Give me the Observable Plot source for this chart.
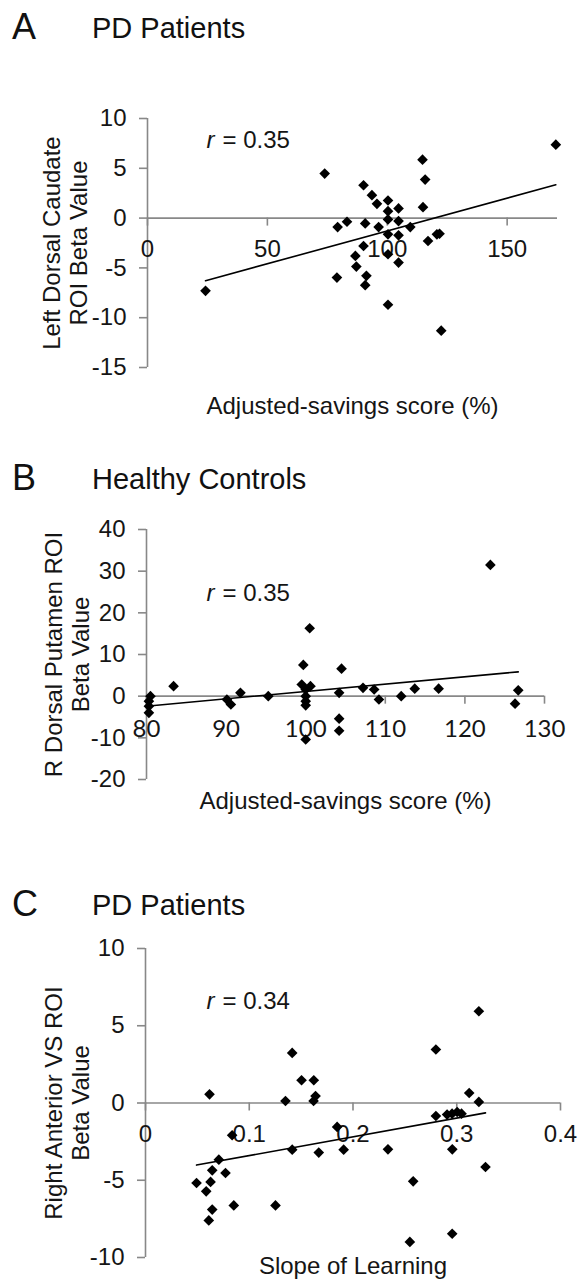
<!DOCTYPE html>
<html><head><meta charset="utf-8">
<script src="https://cdn.jsdelivr.net/npm/d3@7"></script>
<script src="https://cdn.jsdelivr.net/npm/@observablehq/plot@0.6"></script>
<style>
body{margin:0;background:#fff;font-family:"Liberation Sans",Arial,sans-serif;}
#root{position:relative;width:579px;height:1279px;overflow:hidden;background:#fff;}
.abs{position:absolute;white-space:nowrap;color:#111;}
.letter{font-size:36px;line-height:36px;}
.title{font-size:29px;line-height:29px;}
</style></head><body><div id="root"></div>
<script>
// ---- Panel A: PD patients, adjusted-savings vs left dorsal caudate ----
const savingsA = [24.2, 73.9, 79.3, 83.2, 79.0, 86.7, 87.1, 90.1, 93.6, 95.7, 100.3, 100.3, 104.7, 90.8, 96.4, 100.3, 104.7, 109.6, 100.3, 104.7, 120.7, 121.8, 117.0, 90.1, 100.3, 104.7, 91.3, 90.8, 100.3, 122.5, 114.7, 115.8, 114.9, 170.3];
const caudateA = [-7.3, 4.47, -0.9, -0.37, -5.97, -3.8, -4.87, 3.3, 2.3, 1.43, 1.77, 0.7, 0.97, -0.53, -0.9, -0.13, -0.3, -0.9, -1.63, -1.73, -1.63, -1.57, -2.3, -2.8, -3.63, -4.47, -5.8, -6.73, -8.7, -11.3, 5.87, 3.87, 1.1, 7.37];
const xTicksA = [0, 50, 100, 150];
const yTicksA = [-15, -10, -5, 0, 5, 10];

// ---- Panel B: healthy controls, adjusted-savings vs R dorsal putamen ----
const savingsB = [80.5, 80.3, 80.3, 80.3, 83.4, 90.1, 90.6, 91.8, 95.3, 99.5, 100.6, 100.0, 100.0, 100.0, 100.0, 100.0, 99.7, 100.5, 104.2, 104.2, 104.2, 104.5, 107.2, 108.6, 109.2, 112.0, 113.7, 116.7, 123.2, 126.7, 126.3];
const putamenB = [0, -1.2, -2.4, -4.0, 2.4, -0.8, -2.0, 0.8, 0, 2.8, 2.4, 1.6, 0, -1.2, -2.2, -10.4, 7.5, 16.3, 0.8, -5.4, -8.3, 6.6, 2.0, 1.6, -0.8, 0, 1.8, 1.8, 31.5, 1.4, -1.8];
const xTicksB = [80, 90, 100, 110, 120, 130];
const yTicksB = [-20, -10, 0, 10, 20, 30, 40];

// ---- Panel C: PD patients, slope of learning vs right anterior VS ----
const slopeC = [0.0617, 0.1414, 0.1504, 0.1622, 0.1349, 0.1639, 0.162, 0.0835, 0.1847, 0.191, 0.167, 0.1414, 0.0707, 0.3213, 0.2799, 0.312, 0.3213, 0.2799, 0.2907, 0.2955, 0.3004, 0.3046, 0.2337, 0.2957, 0.3277, 0.0643, 0.0771, 0.0492, 0.0627, 0.0585, 0.0851, 0.1253, 0.0643, 0.061, 0.258, 0.2548, 0.2956];
const vsC = [0.56, 3.24, 1.47, 1.47, 0.13, 0.45, 0.13, -2.09, -1.55, -3.02, -3.21, -3.02, -3.67, 5.94, 3.46, 0.65, 0.07, -0.84, -0.75, -0.69, -0.58, -0.69, -3.0, -3.0, -4.14, -4.36, -4.53, -5.18, -5.11, -5.72, -6.63, -6.63, -6.9, -7.6, -5.07, -8.99, -8.46];
const xTicksC = [0, 0.1, 0.2, 0.3, 0.4];
const yTicksC = [-10, -5, 0, 5, 10];

const panelLetters = ["A", "B", "C"];
const panelTitles = ["PD Patients", "Healthy Controls", "PD Patients"];
const yLabels = ["Left Dorsal Caudate\nROI Beta Value", "R Dorsal Putamen ROI\nBeta Value", "Right Anterior VS ROI\nBeta Value"];
const xLabels = ["Adjusted-savings score (%)", "Adjusted-savings score (%)", "Slope of Learning"];
const rValues = ["0.35", "0.35", "0.34"];

const root = document.getElementById("root");
const AXIS = "#888";
const INK = "#151515";
const FS = 24;
const plain = d => String(d);   // hyphen-minus, "0" not "0.0"

function panel(cfg) {
  const {x, y, xDomain, yDomain, xTicks, yTicks, top, height, mt, mb, ml, mr,
         yLabel, xLabel, rValue, rBase, xTickFont, xTickPad, xLabelDy, yLabelX} = cfg;
  const innerH = height - mt - mb;
  const zeroPx = mt + innerH * (yDomain[1] - 0) / (yDomain[1] - yDomain[0]);
  const shift = zeroPx - (height - mb);
  const data = x.map((v, i) => ({x: v, y: y[i]}));
  const svg = Plot.plot({
    width: 579, height,
    marginTop: mt, marginBottom: mb, marginLeft: ml, marginRight: mr,
    style: {fontFamily: "'Liberation Sans', Arial, sans-serif", fontSize: FS + "px", color: INK, background: "transparent", overflow: "visible"},
    x: {domain: xDomain},
    y: {domain: yDomain},
    marks: [
      Plot.ruleY([0], {stroke: AXIS, strokeWidth: 1.6}),
      Plot.ruleX([xDomain[0]], {stroke: AXIS, strokeWidth: 1.6}),
      Plot.axisY(yTicks, {anchor: "left", tickSize: 8, tickPadding: 13, stroke: AXIS, strokeWidth: 1.6, fill: INK, fontSize: FS, tickFormat: plain, label: null}),
      Plot.axisX(xTicks, {anchor: "bottom", tickSize: 8, tickPadding: xTickPad, stroke: AXIS, strokeWidth: 1.6, fill: INK, fontSize: FS, fontFamily: xTickFont, tickFormat: plain, dy: shift, label: null}),
      Plot.dot(data, {x: "x", y: "y", symbol: "diamond2", r: 4.8, fill: "#000", stroke: "none"}),
      Plot.linearRegressionY(data, {x: "x", y: "y", ci: 0, stroke: "#000", strokeWidth: 1.6}),
      Plot.text([yLabel], {text: d => d, frameAnchor: "left", dx: yLabelX - ml, rotate: -90, textAnchor: "middle", lineAnchor: "middle", fontSize: FS, lineHeight: 1.15, fill: INK}),
      Plot.text([xLabel], {text: d => d, frameAnchor: "bottom", dy: xLabelDy, textAnchor: "middle", lineAnchor: "bottom", fontSize: FS, fill: INK}),
      Plot.text(["r"], {text: d => d, frameAnchor: "top-left", dx: 206 - ml, dy: rBase - top - mt, lineAnchor: "bottom", textAnchor: "start", fontStyle: "italic", fontSize: FS, fill: INK}),
      Plot.text(["= " + rValue], {text: d => d, frameAnchor: "top-left", dx: 222 - ml, dy: rBase - top - mt, lineAnchor: "bottom", textAnchor: "start", fontSize: FS, fill: INK})
    ]
  });
  const wrap = document.createElement("div");
  wrap.className = "abs";
  wrap.style.left = "0px";
  wrap.style.top = top + "px";
  wrap.appendChild(svg);
  root.appendChild(wrap);
}

panel({x: savingsA, y: caudateA, xDomain: [0, 171], yDomain: [-15, 10], xTicks: xTicksA, yTicks: yTicksA,
  top: 60, height: 370, mt: 58, mb: 63, ml: 147, mr: 22, yLabel: yLabels[0], xLabel: xLabels[0], rValue: rValues[0],
  rBase: 147, xTickFont: "'Liberation Sans', Arial, sans-serif", xTickPad: 14, xLabelDy: 46, yLabelX: 64});

panel({x: savingsB, y: putamenB, xDomain: [80, 130], yDomain: [-20, 40], xTicks: xTicksB, yTicks: yTicksB,
  top: 440, height: 390, mt: 89, mb: 51, ml: 146, mr: 35, yLabel: yLabels[1], xLabel: xLabels[1], rValue: rValues[1],
  rBase: 600, xTickFont: "Lato, 'Liberation Sans', sans-serif", xTickPad: 16, xLabelDy: 29, yLabelX: 66});

panel({x: slopeC, y: vsC, xDomain: [0, 0.4], yDomain: [-10, 10], xTicks: xTicksC, yTicks: yTicksC,
  top: 840, height: 439, mt: 108, mb: 22, ml: 145, mr: 19, yLabel: yLabels[2], xLabel: xLabels[2], rValue: rValues[2],
  rBase: 1008, xTickFont: "'Liberation Sans', Arial, sans-serif", xTickPad: 14, xLabelDy: 16, yLabelX: 66});

// Panel letters and titles (HTML, above the SVGs)
const titleBaselines = [39, 490, 916];
titleBaselines.forEach((b, i) => {
  const L = document.createElement("div");
  L.className = "abs letter";
  L.style.left = "12px";
  L.style.top = (b - 0.8465 * 36) + "px";
  L.textContent = panelLetters[i];
  root.appendChild(L);
  const T = document.createElement("div");
  T.className = "abs title";
  T.style.left = "92px";
  T.style.top = (b - 0.8465 * 29) + "px";
  T.textContent = panelTitles[i];
  root.appendChild(T);
});
</script>
</body></html>
